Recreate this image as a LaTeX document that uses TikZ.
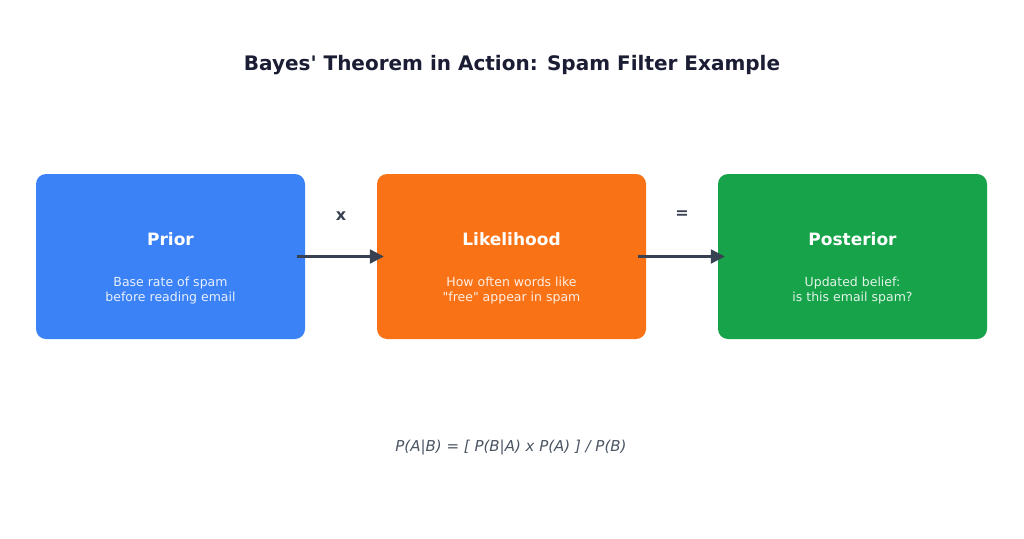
\documentclass[tikz,border=0pt]{standalone}
\usepackage{fontspec}
\newfontfamily\dv{DejaVu Sans}
\usetikzlibrary{arrows.meta}
\definecolor{cblue}{HTML}{3B82F6}
\definecolor{corange}{HTML}{F97316}
\definecolor{cgreen}{HTML}{16A34A}
\definecolor{cdark}{HTML}{374151}
\definecolor{ctitle}{HTML}{1A1D33}
\definecolor{cformula}{HTML}{4B5563}
\tikzset{
  card/.style={rounded corners=10pt, minimum width=269pt, minimum height=165pt, inner sep=0pt, draw=none},
  cardtitle/.style={text=white, font=\dv\bfseries\fontsize{17}{20}\selectfont, inner sep=0pt},
  cardsub/.style={text=white, text opacity=0.88, font=\dv\fontsize{12.5}{15}\selectfont, align=center, inner sep=0pt},
  opsym/.style={text=cdark, font=\dv\bfseries\fontsize{16}{19}\selectfont, inner sep=0pt},
  arr/.style={draw=cdark, line width=2.3pt, -{Triangle[length=14pt,width=14pt]}},
}
\begin{document}
\begin{tikzpicture}[x=1pt,y=-1pt]
\useasboundingbox[fill=white] (0,0) rectangle (1024,538);
\node[font=\dv\bfseries\fontsize{20}{24}\selectfont, text=ctitle] (title) at (512,65) {Bayes' Theorem in Action: Spam Filter Example};
\node[card, fill=cblue] (prior) at (170.5,256.5) {};
\node[card, fill=corange] (like) at (511.5,256.5) {};
\node[card, fill=cgreen] (post) at (852.5,256.5) {};
\node[cardtitle] (priort) at (170.5,239) {Prior};
\node[cardtitle] (liket) at (511.5,239) {Likelihood};
\node[cardtitle] (postt) at (852.5,239) {Posterior};
\node[cardsub] (priors) at (170.5,290.5) {Base rate of spam\\before reading email};
\node[cardsub] (likes) at (511.5,290.5) {How often words like\\"free" appear in spam};
\node[cardsub] (posts) at (852.5,290.5) {Updated belief:\\is this email spam?};
\draw[arr] ([xshift=-8pt]prior.east) -- ([xshift=7pt]like.west);
\draw[arr] ([xshift=-8pt]like.east) -- ([xshift=7pt]post.west);
\node[opsym] (times) at (341,216.5) {x};
\node[opsym] (equals) at (682,215) {=};
\node[font=\dv\itshape\fontsize{15}{18}\selectfont, text=cformula] (formula) at (511,448) {P(A|B) = [ P(B|A) x P(A) ] / P(B)};
\end{tikzpicture}
\end{document}
